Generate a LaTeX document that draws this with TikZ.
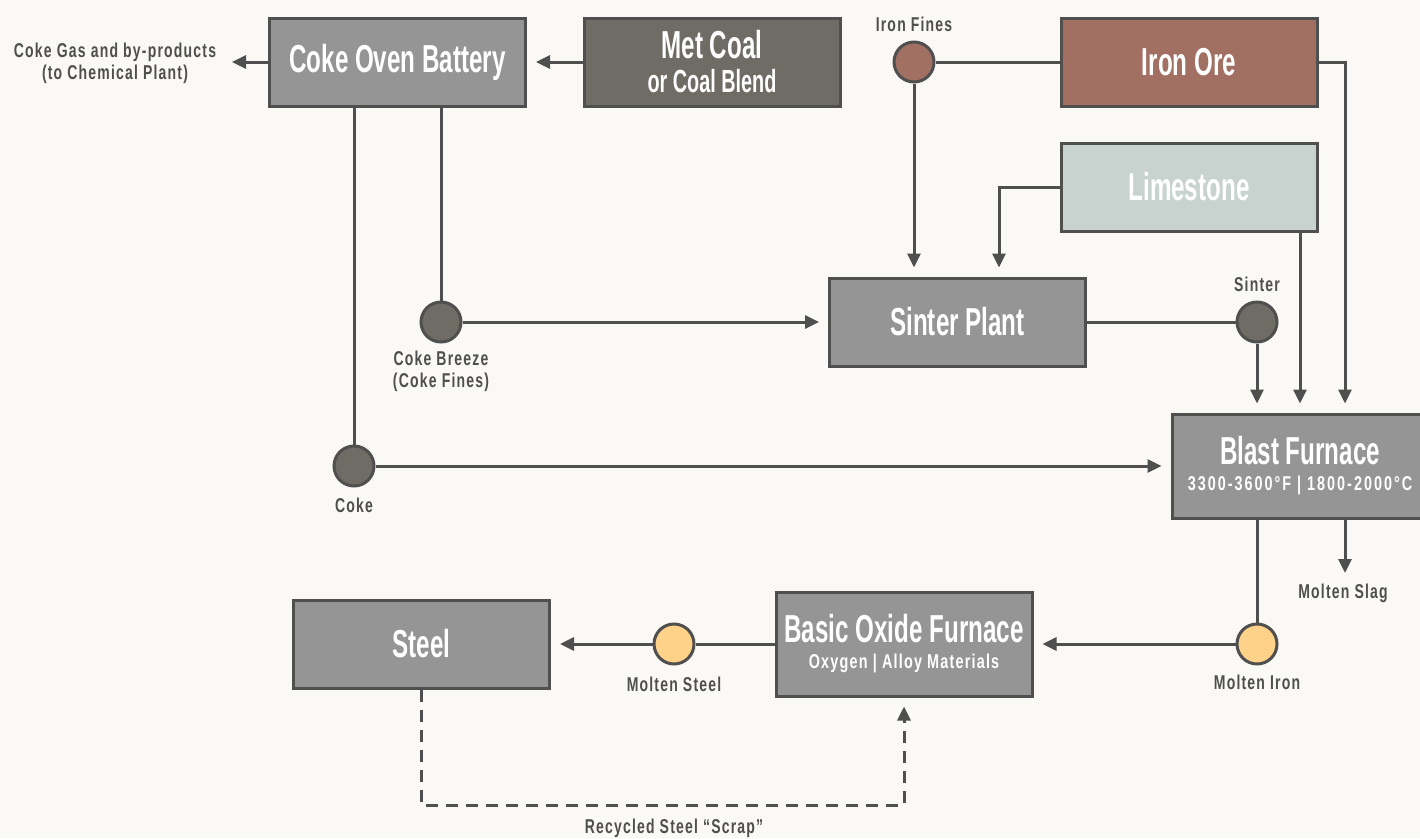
\documentclass[tikz,border=0pt]{standalone}
\usepackage{fontspec}
\setmainfont{Liberation Sans}
\newfontfamily\titlef{Liberation Sans}[FakeStretch=0.62]
\newfontfamily\subf{Liberation Sans}[FakeStretch=0.72,LetterSpace=6]
\newfontfamily\subwf{Liberation Sans}[FakeStretch=0.72,LetterSpace=10]
\newfontfamily\lblf{Liberation Sans}[FakeStretch=0.7,LetterSpace=6]
\usetikzlibrary{arrows.meta}
\definecolor{bg}{HTML}{FAF9F5}
\definecolor{ln}{HTML}{4F4F4F}
\definecolor{boxgray}{HTML}{959596}
\definecolor{dark}{HTML}{6F6C66}
\definecolor{ore}{HTML}{A27062}
\definecolor{lime}{HTML}{C8D3CF}
\definecolor{molten}{HTML}{FFD28A}
\tikzset{
  box/.style={draw=ln, line width=3pt, fill=boxgray, text=white, minimum width=256pt, minimum height=88pt, align=center, inner sep=0pt, font=\titlef\bfseries\fontsize{39}{42}\selectfont},
  tall/.style={minimum height=104pt},
  dot/.style={circle, draw=ln, line width=3pt, fill=dark, minimum size=40pt, inner sep=0pt},
  lbl/.style={text=ln, align=center, inner sep=0pt, font=\lblf\bfseries\fontsize{20}{22}\selectfont},
  conn/.style={draw=ln, line width=3pt},
  arr/.style={conn, -{Triangle[length=14pt,width=13pt]}, shorten >=9pt},
  arrfree/.style={conn, -{Triangle[length=14pt,width=13pt]}},
}
\begin{document}
\begin{tikzpicture}[x=1pt,y=-1pt]
\fill[bg] (0,0) rectangle (1420,838);
\useasboundingbox (0,0) rectangle (1420,838);
\clip (0,0) rectangle (1420,838);
% boxes
\node[box] (cob) at (397.5,62) {Coke Oven Battery};
\node[box, fill=dark] (metcoal) at (712,62) {Met Coal\\[-8pt]{\fontsize{32}{32}\selectfont or Coal Blend}};
\node[box, fill=ore] (ironore) at (1189,62) {Iron Ore};
\node[box, fill=lime] (limestone) at (1189,187) {Limestone};
\node[box] (sinter) at (957.5,322) {Sinter Plant};
\node[box, tall] (bf) at (1300,466) {Blast Furnace\\[-16pt]{\subwf\bfseries\fontsize{20}{22}\selectfont 3300-3600°F | 1800-2000°C}};
\node[box, tall] (bof) at (904,644) {Basic Oxide Furnace\\[-16pt]{\subf\bfseries\fontsize{20}{22}\selectfont Oxygen | Alloy Materials}};
\node[box] (steel) at (421.5,644) {Steel};
% circles
\node[dot, fill=ore] (fines) at (914,62) {};
\node[dot] (breeze) at (441,322) {};
\node[dot] (coke) at (354,466) {};
\node[dot] (sinterc) at (1257,322) {};
\node[dot, fill=molten] (moltiron) at (1257,644) {};
\node[dot, fill=molten] (moltsteel) at (674,644) {};
% labels
\node[lbl] (cokegas) at (115,63) {Coke Gas and by-products\\(to Chemical Plant)};
\node[lbl] (finesl) at (914,24) {Iron Fines};
\node[lbl] (breezel) at (441,371) {Coke Breeze\\(Coke Fines)};
\node[lbl] (cokel) at (354,505) {Coke};
\node[lbl] (sinterl) at (1257,284) {Sinter};
\node[lbl] (slagl) at (1343,593) {Molten Slag};
\node[lbl] (moltironl) at (1257,682) {Molten Iron};
\node[lbl] (moltsteell) at (674,684) {Molten Steel};
\node[lbl] (scrapl) at (674,828) {Recycled Steel “Scrap”};
% free ends
\coordinate (gastip) at (232,62);
\coordinate (slagtip) at (1345,573);
\coordinate (scrapy) at (0,805);
% connectors
\draw[arrfree] (cob.west) -- (gastip);
\draw[arr] (metcoal.west) -- (cob.east);
\draw[conn] (ironore.west) -- (fines.east);
\draw[arr] (fines.south) -- (fines.south |- sinter.north);
\draw[arr] (limestone.west) -| ([xshift=41.5pt]sinter.north);
\draw[conn] ([xshift=43.5pt]cob.south) -- (breeze.north);
\draw[conn] ([xshift=-43.5pt]cob.south) -- (coke.north);
\draw[arr] (breeze.east) -- (sinter.west);
\draw[arr] (coke.east) -- (coke -| bf.west);
\draw[conn] (sinter.east) -- (sinterc.west);
\draw[arr] (sinterc.south) -- (sinterc |- bf.north);
\draw[arr] (limestone.south -| bf.north) -- (bf.north);
\draw[arr] (ironore.east) -| ([xshift=45pt]bf.north);
\draw[conn] (bf.south -| moltiron) -- (moltiron.north);
\draw[arr] (moltiron.west) -- (moltiron -| bof.east);
\draw[arrfree] ([xshift=45pt]bf.south) -- (slagtip);
\draw[conn] (moltsteel -| bof.west) -- (moltsteel.east);
\draw[arr] (moltsteel.west) -- (steel.east);
\draw[arr, dash pattern=on 12pt off 8pt] (steel.south) |- (scrapy -| bof.south) -- (bof.south);
\end{tikzpicture}
\end{document}
